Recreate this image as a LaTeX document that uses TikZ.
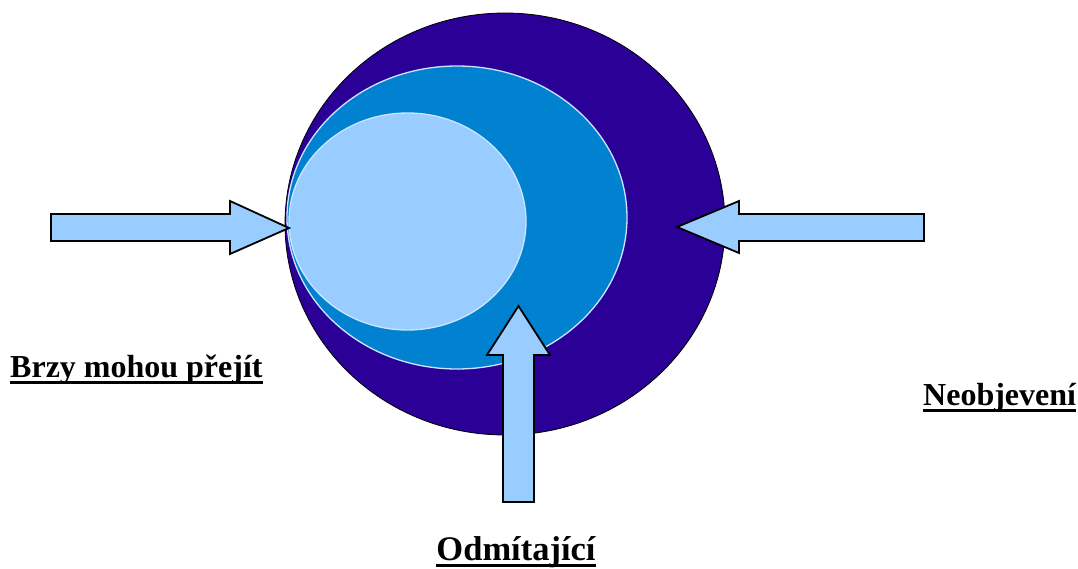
\documentclass[tikz,border=0pt]{standalone}
\usepackage{fontspec}
\setmainfont{Liberation Serif}
\usetikzlibrary{shapes.geometric}
\definecolor{outerc}{RGB}{42,0,150}
\definecolor{midc}{RGB}{0,130,208}
\definecolor{innerc}{RGB}{153,204,255}
\definecolor{rimc}{RGB}{205,228,255}
\begin{document}
\begin{tikzpicture}[x=1pt,y=-1pt,
  blob/.style={ellipse, inner sep=0pt},
  blockarrow/.style={fill=innerc, draw=black, line width=1.8pt, line join=miter},
  lbl/.style={inner sep=0pt, anchor=base west, font=\bfseries\fontsize{32}{38}\selectfont},
  uline/.style={line width=3pt}]
\useasboundingbox (0,0) rectangle (1078,569);
\node[blob, fill=outerc, draw=black, line width=0.8pt, minimum width=440pt, minimum height=422pt] (outer) at (505,224) {};
\node[blob, fill=midc, draw=rimc, line width=1.3pt, minimum width=340pt, minimum height=303pt] (mid) at (457,217.5) {};
\node[blob, fill=innerc, draw=rimc, line width=1.3pt, minimum width=237pt, minimum height=217pt] (inner) at (407.5,221.5) {};
% block arrows
\draw[blockarrow] (51,214) -- (230,214) -- (230,201) -- (289,228) -- (230,254) -- (230,241) -- (51,241) -- cycle;
\draw[blockarrow] (924,214) -- (739,214) -- (739,201) -- (677,227) -- (739,253) -- (739,241) -- (924,241) -- cycle;
\draw[blockarrow] (503,502) -- (503,355) -- (487,355) -- (518.5,306) -- (550,355) -- (534,355) -- (534,502) -- cycle;
% labels
\node[lbl] (brzy) at (10,377) {Brzy mohou přejít};
\node[lbl] (neob) at (923,405) {Neobjevení};
\node[lbl, anchor=base, font=\bfseries\fontsize{34.5}{40}\selectfont] (odm) at (516,560) {Odmítající};
\foreach \n in {brzy,neob,odm}
  \draw[uline] ([yshift=-5.5pt]\n.base west) -- ([yshift=-5.5pt]\n.base east);
\end{tikzpicture}
\end{document}
